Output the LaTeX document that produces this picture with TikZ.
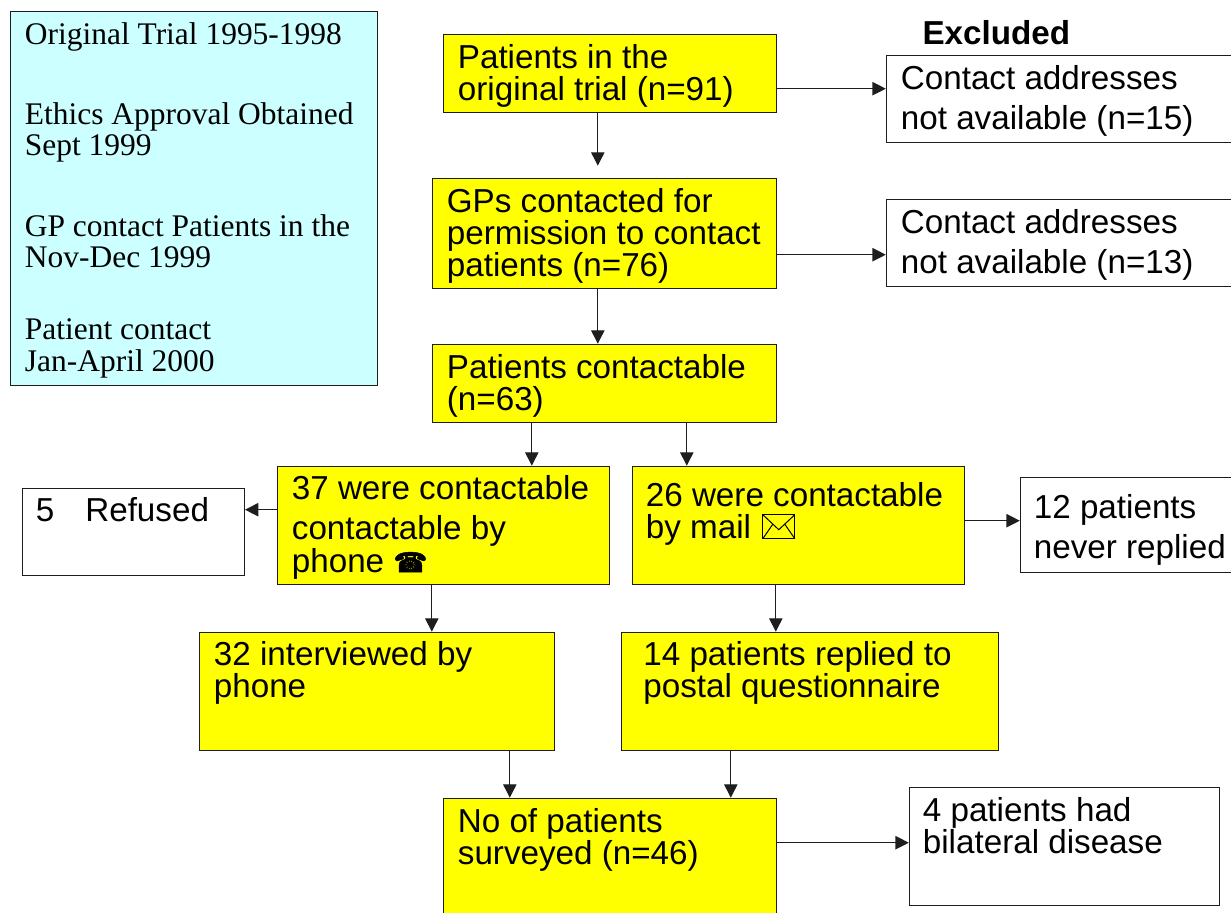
\documentclass[tikz,border=0pt]{standalone}
\usepackage{fontspec}
\setmainfont{Liberation Sans}
\newfontfamily\serifbox{Liberation Serif}
\newfontfamily\symb[FakeBold=2]{DejaVu Sans}
\usetikzlibrary{arrows.meta}
\definecolor{pureyellow}{RGB}{255,255,0}
\definecolor{palecyan}{RGB}{204,255,255}
\definecolor{inkline}{RGB}{30,30,30}
\newlength{\pxu}\setlength{\pxu}{0.75pt}
\newlength{\bw}\newlength{\bh}
% name, style, x0, y0, x1, y1, text inset x, first baseline y, text
\newcommand{\flowbox}[9]{%
  \setlength{\bw}{\dimexpr #5\pxu-#3\pxu\relax}%
  \setlength{\bh}{\dimexpr #6\pxu-#4\pxu\relax}%
  \node[#2,minimum width=0pt,minimum height=0pt,inner sep=0pt,anchor=north west] (#1) at (#3,#4)
   {\parbox[t][\bh][t]{\bw}{\leftskip=#7\pxu\rightskip=0pt plus 1fil\parindent=0pt\vspace*{#8\pxu}#9\par}};}
\tikzset{
  x=0.75pt,y=-0.75pt,
  every node/.style={font=\fontsize{24.9pt}{24pt}\selectfont},
  plainbox/.style={draw=inkline,line width=0.9pt,fill=white},
  yellowbox/.style={draw=inkline,line width=0.9pt,fill=pureyellow},
  bluebox/.style={draw=inkline,line width=0.9pt,fill=palecyan,font=\serifbox\fontsize{23.6pt}{23.6pt}\selectfont},
  arr/.style={draw=inkline,line width=0.8pt,-{Triangle[length=10pt,width=10pt]}},
  icon/.style={draw=black,line width=0.75pt}
}
\begin{document}
\begin{tikzpicture}
\useasboundingbox (0.2,0.3) rectangle (1231.2,913.3);
\flowbox{info}{bluebox}{10}{11}{377}{385}{14.5}{11}{Original Trial 1995-1998\\[36.4pt]Ethics Approval Obtained\\Sept 1999\\[37pt]GP contact Patients in the\\Nov-Dec 1999\\[30.4pt]Patient contact\\Jan-April 2000}
\flowbox{orig}{yellowbox}{443}{34}{776}{112}{14.5}{10}{Patients in the\\original trial (n=91)}
\flowbox{gps}{yellowbox}{432}{178}{776}{288}{14.5}{10}{GPs contacted for\\permission to contact\\patients (n=76)}
\flowbox{cont}{yellowbox}{432}{344}{776}{422}{14.5}{10}{Patients contactable\\(n=63)}
\flowbox{phone}{yellowbox}{277}{466}{609}{584}{14.5}{9}{37 were contactable\\[6pt]contactable by\\[0.5pt]phone {\symb\fontsize{20.5pt}{24pt}\selectfont ☎}}
\flowbox{mail}{yellowbox}{632}{466}{964}{584}{13.5}{16}{26 were contactable\\by mail}
\flowbox{inter}{yellowbox}{199}{632}{554}{750}{14.5}{9}{32 interviewed by\\phone}
\flowbox{post}{yellowbox}{621}{632}{998}{750}{22}{9}{14 patients replied to\\postal questionnaire}
\flowbox{surv}{yellowbox}{443}{798}{776}{920}{14.5}{10}{No of patients\\surveyed (n=46)}
\flowbox{ex1}{plainbox}{886}{55}{1235}{142}{14.5}{10}{Contact addresses\\[6pt]not available (n=15)}
\flowbox{ex2}{plainbox}{886}{199}{1235}{286}{14.5}{10}{Contact addresses\\[6pt]not available (n=13)}
\flowbox{ref}{plainbox}{22}{488}{244}{575}{13.5}{9}{5\hspace{31\pxu}Refused}
\flowbox{never}{plainbox}{1020}{477}{1235}{572}{13.5}{17}{12 patients\\[6pt]never replied}
\flowbox{bil}{plainbox}{909}{787}{1219}{905}{13.5}{10}{4 patients had\\bilateral disease}
\node[anchor=west,inner sep=0pt] (exhead) at (922.5,33) {\bfseries Excluded};
% envelope icon
\draw[icon] (763,515) rectangle (795,539);
\draw[icon] (763,515) -- (779,530) -- (795,515);
\draw[icon] (763,539) -- (773,524.5);
\draw[icon] (795,539) -- (785,524.5);
\draw[arr] (orig.east |- 0,89) -- (ex1.west |- 0,89);
\draw[arr] (gps.east |- 0,255) -- (ex2.west |- 0,255);
\draw[arr,shorten >=9pt] (orig.south -| 598,0) -- (gps.north -| 598,0);
\draw[arr] (gps.south -| 598,0) -- (cont.north -| 598,0);
\draw[arr] (cont.south -| 532,0) -- (phone.north -| 532,0);
\draw[arr] (cont.south -| 687,0) -- (mail.north -| 687,0);
\draw[arr] (phone.west |- 0,510) -- (ref.east |- 0,510);
\draw[arr] (mail.east |- 0,521) -- (never.west |- 0,521);
\draw[arr] (phone.south -| 432,0) -- (inter.north -| 432,0);
\draw[arr] (mail.south -| 776,0) -- (post.north -| 776,0);
\draw[arr] (inter.south -| 510,0) -- (surv.north -| 510,0);
\draw[arr] (post.south -| 731,0) -- (surv.north -| 731,0);
\draw[arr] (surv.east |- 0,843) -- (bil.west |- 0,843);
\end{tikzpicture}
\end{document}
